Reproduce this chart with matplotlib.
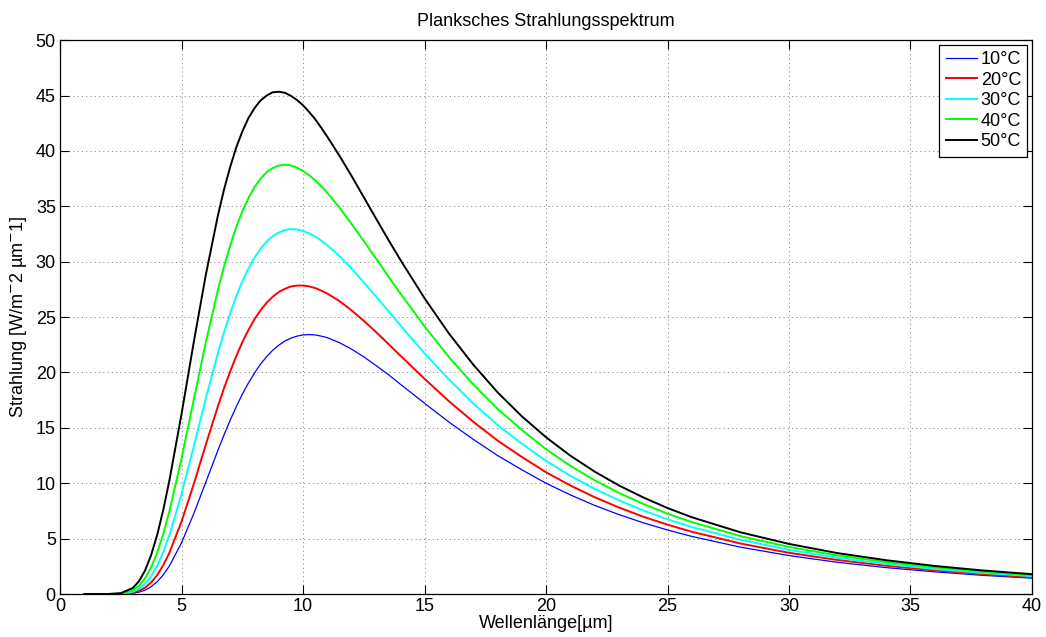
import numpy as np
import matplotlib
matplotlib.use("Agg")
import matplotlib.pyplot as plt

plt.rcParams['font.family'] = ['Liberation Sans', 'DejaVu Sans']

# ==== DATEN ====
wellenlaenge = [1, 2, 2.5, 3, 3.25, 3.5, 3.75, 4, 4.25, 4.5,
                5, 5.5, 6, 6.5, 6.75, 7, 7.25, 7.5, 7.75, 8,
                8.25, 8.5, 8.75, 9, 9.25, 9.5, 9.75, 10, 10.25, 10.5,
                10.75, 11, 11.5, 12, 12.5, 13, 13.5, 14, 15, 16,
                17, 18, 19, 20, 21, 22, 23, 24, 25, 26,
                28, 30, 32, 34, 36, 38, 40]

s10 = [0, 0, 0.006, 0.068, 0.167, 0.353, 0.658, 1.11, 1.733, 2.53,
       4.62, 7.23, 10.10, 12.98, 14.37, 15.68, 16.90, 18.03, 19.04, 19.94,
       20.75, 21.42, 22.00, 22.46, 22.83, 23.09, 23.28, 23.39, 23.42, 23.39,
       23.28, 23.14, 22.69, 22.10, 21.41, 20.63, 19.83, 18.95, 17.22, 15.53,
       13.97, 12.51, 11.22, 10.00, 8.95, 8.00, 7.17, 6.43, 5.78, 5.20,
       4.23, 3.47, 2.86, 2.38, 2.00, 1.68, 1.43]
s20 = [0, 0, 0.012, 0.121, 0.285, 0.579, 1.044, 1.71, 2.606, 3.72,
       6.54, 9.90, 13.49, 16.96, 18.58, 20.07, 21.46, 22.72, 23.82, 24.79,
       25.61, 26.29, 26.83, 27.26, 27.55, 27.76, 27.84, 27.85, 27.77, 27.62,
       27.39, 27.12, 26.44, 25.60, 24.66, 23.66, 22.60, 21.53, 19.43, 17.41,
       15.56, 13.86, 12.38, 10.99, 9.80, 8.74, 7.81, 6.98, 6.26, 5.62,
       4.56, 3.72, 3.07, 2.55, 2.13, 1.79, 1.52]
s30 = [0, 0, 0.022, 0.207, 0.469, 0.919, 1.607, 2.57, 3.814, 5.33,
       9.04, 13.30, 17.67, 21.76, 23.63, 25.32, 26.86, 28.21, 29.37, 30.35,
       31.17, 31.81, 32.31, 32.63, 32.85, 32.94, 32.91, 32.78, 32.56, 32.27,
       31.91, 31.48, 30.50, 29.37, 28.14, 26.86, 25.57, 24.27, 21.73, 19.38,
       17.21, 15.27, 13.58, 12.02, 10.67, 9.50, 8.46, 7.55, 6.75, 6.05,
       4.89, 3.98, 3.27, 2.71, 2.26, 1.90, 1.61]
s40 = [0, 0.001, 0.040, 0.344, 0.748, 1.418, 2.410, 3.75, 5.445, 7.46,
       12.23, 17.51, 22.73, 27.47, 29.57, 31.44, 33.12, 34.53, 35.71, 36.72,
       37.49, 38.07, 38.45, 38.68, 38.75, 38.70, 38.49, 38.19, 37.81, 37.34,
       36.81, 36.21, 34.88, 33.40, 31.87, 30.30, 28.71, 27.15, 24.16, 21.40,
       18.93, 16.72, 14.82, 13.07, 11.57, 10.27, 9.13, 8.13, 7.25, 6.49,
       5.23, 4.25, 3.48, 2.88, 2.40, 2.01, 1.70]
s50 = [0, 0.003, 0.071, 0.552, 1.158, 2.129, 3.520, 5.35, 7.612, 10.24,
       16.25, 22.69, 28.82, 34.20, 36.52, 38.53, 40.30, 41.74, 42.95, 43.85,
       44.55, 44.99, 45.29, 45.34, 45.25, 44.97, 44.60, 44.12, 43.52, 42.86,
       42.09, 41.28, 39.56, 37.73, 35.82, 33.91, 32.02, 30.19, 26.70, 23.53,
       20.72, 18.22, 16.05, 14.15, 12.49, 11.05, 9.80, 8.72, 7.76, 6.93,
       5.57, 4.52, 3.69, 3.05, 2.53, 2.12, 1.79]

labels = ['10°C', '20°C', '30°C', '40°C', '50°C']
farben = ['#0000ff', '#ff0000', '#00ffff', '#00ff00', '#000000']
breiten = [0.9, 1.4, 1.4, 1.4, 1.4]

fs_txt = 13

# ==== GRAFIK ====
fig = plt.figure(figsize=(10.46, 6.37), dpi=100)
ax = fig.add_axes([0.0574, 0.0675, 0.9292, 0.8695])

for serie, lab, col, lw in zip([s10, s20, s30, s40, s50], labels, farben, breiten):
    ax.plot(wellenlaenge, serie, color=col, linewidth=lw, label=lab)

ax.set_xlim(0, 40)
ax.set_ylim(0, 50)
ax.set_xticks(np.arange(0, 41, 5))
ax.set_yticks(np.arange(0, 51, 5))
ax.tick_params(direction='in', top=True, right=True, labelsize=fs_txt,
               length=6.5, width=0.8, pad=3)
# gepunktetes Gitter wie in MATLAB
ax.grid(True, linestyle=(0, (1.2, 3.2)), color='#8c8c8c', linewidth=0.7)
for s in ax.spines.values():
    s.set_linewidth(0.9)

ax.set_title('Planksches Strahlungsspektrum', fontsize=fs_txt, pad=10)
ax.set_xlabel('Wellenlänge[µm]', fontsize=fs_txt, labelpad=0)
ax.set_ylabel('Strahlung [W/m$^{-}$2 µm$^{-}$1]', fontsize=fs_txt, labelpad=5)

leg = ax.legend(loc='upper right', fontsize=fs_txt, fancybox=False, framealpha=1,
                edgecolor='black', handlelength=1.75, handletextpad=0.2,
                borderaxespad=0.25, labelspacing=0.2, borderpad=0.35)
leg.get_frame().set_linewidth(0.9)

plt.savefig('out.png', dpi=100)
